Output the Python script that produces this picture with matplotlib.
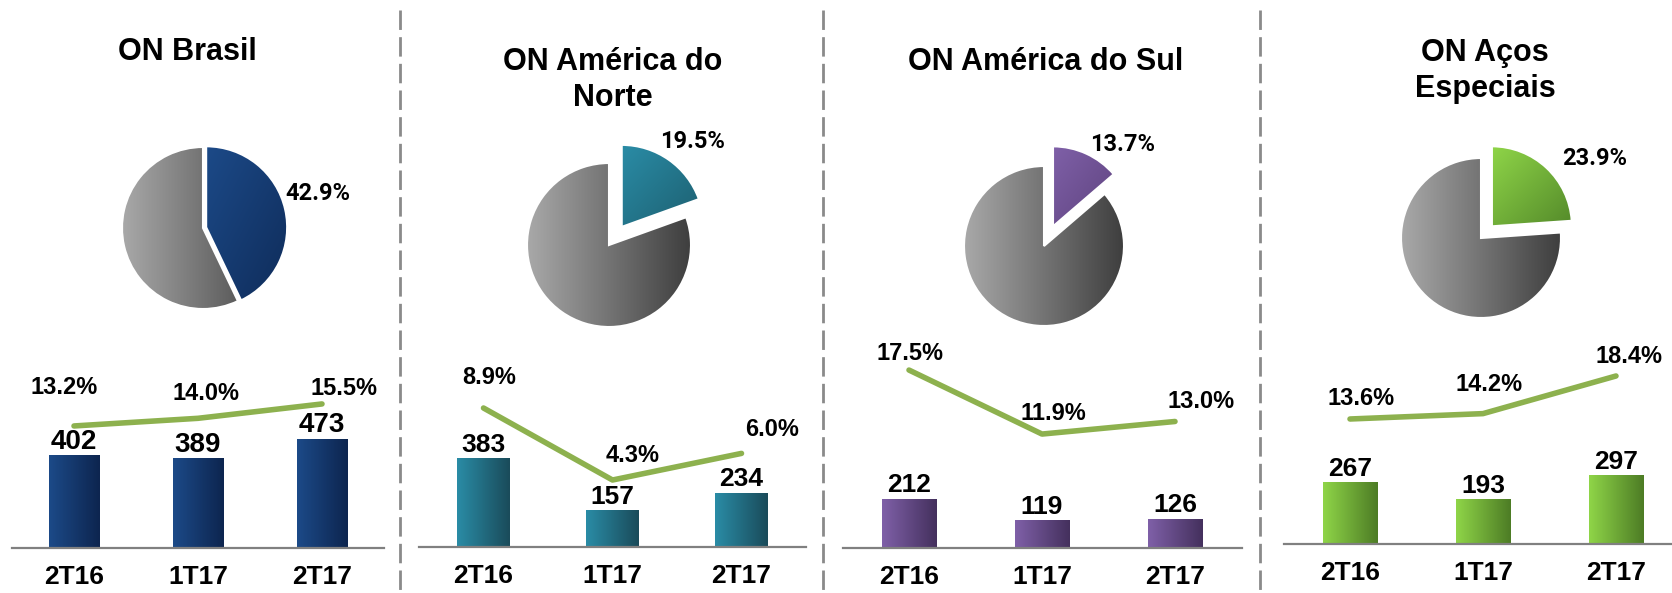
import numpy as np
import matplotlib.pyplot as plt
from matplotlib.colors import LinearSegmentedColormap
from matplotlib.lines import Line2D

W, H = 1672, 593

# data
titles = [["ON Brasil"], ["ON América do", "Norte"], ["ON América do Sul"], ["ON Aços", "Especiais"]]
periods = ["2T16", "1T17", "2T17"]
share = [42.9, 19.5, 13.7, 23.9]
volume_brasil = [402, 389, 473]
volume_norte = [383, 157, 234]
volume_sul = [212, 119, 126]
volume_especiais = [267, 193, 297]
margin_brasil = [13.2, 14.0, 15.5]
margin_norte = [8.9, 4.3, 6.0]
margin_sul = [17.5, 11.9, 13.0]
margin_especiais = [13.6, 14.2, 18.4]

volumes = [volume_brasil, volume_norte, volume_sul, volume_especiais]
margins = [margin_brasil, margin_norte, margin_sul, margin_especiais]

# styling / layout (pixels)
light = ["#1c4a88", "#2a8ca6", "#7f60a8", "#8fd548"]
dark = ["#0d254f", "#1a4b5a", "#44305d", "#4d7c25"]
pie_dark = ["#0f2c5a", "#1d5f70", "#5e437e", "#548a2a"]
line_color = "#8db14e"
grey_l, grey_d = "#a9a9a9", "#3e3e3e"

title_pos = [(187, 52), (613, 62), (1046, 62), (1485, 53)]
pie_pos = [(203, 228, 81), (609, 245, 82), (1044, 246, 80), (1481, 238, 80)]
explode = [0.04, 0.27, 0.27, 0.2]
pie_lab_off = [(115, 35), (84, 103), (79, 101), (114, 79)]
bar_x0 = [12, 419, 842.5, 1283.5]
bar_step = [124, 129, 133, 133]
baseline = [548, 547, 548, 544]
axes_top = 300
px_per_unit = 0.23
line_lims = [(0.45, 26.36), (0.02, 15.8), (1.93, 23.63), (-0.35, 26.88)]
line_lab_off = [[(-10, 38), (8, 25), (22, 15)],
                [(6, 31), (20, 25), (31, 24)],
                [(1, 17), (11, 21), (26, 20)],
                [(11, 20), (6, 29), (13, 19)]]
val_size = [20, 19, 19, 19]
separators = [400, 823, 1260]

ARIAL = "Liberation Sans"
CAL = "Roboto"

fig = plt.figure(figsize=(W / 100, H / 100), dpi=100)


def fx(x):
    return x / W


def fy(y):
    return 1 - y / H


for sx in separators:
    fig.add_artist(Line2D([fx(sx), fx(sx)], [fy(10), 0], transform=fig.transFigure,
                          color="#8a8a8a", lw=2, dashes=(7, 2.6)))

for p in range(4):
    # title
    tx, ty = title_pos[p]
    for i, line in enumerate(titles[p]):
        fig.text(fx(tx), fy(ty + i * 36), line, ha="center", va="center",
                 fontsize=22, fontweight="bold", family=ARIAL)

    # pie
    cx, cy, r = pie_pos[p]
    L = 1.45
    side = 2 * r * L
    pax = fig.add_axes([fx(cx - side / 2), fy(cy + side / 2), side / W, side / H])
    wedges, _ = pax.pie([share[p], 100 - share[p]], explode=[explode[p], 0], startangle=90,
                        counterclock=False, radius=1,
                        wedgeprops=dict(edgecolor="white", linewidth=1.5))
    pax.set_xlim(-L, L)
    pax.set_ylim(-L, L)
    pax.set_aspect("equal")
    pax.axis("off")

    gcmap = LinearSegmentedColormap.from_list("grey", [grey_l, grey_d])
    im = pax.imshow(np.linspace(0, 1, 256).reshape(1, -1), cmap=gcmap, extent=(-1, 1, -1, 1),
                    aspect="auto", interpolation="bilinear", zorder=0)
    im.set_clip_path(wedges[1])
    wedges[1].set_facecolor("none")

    ext = wedges[0].get_path().get_extents()
    gx, gy = np.meshgrid(np.linspace(0, 1, 100), np.linspace(0, 1, 100))
    ccmap = LinearSegmentedColormap.from_list("c%d" % p, [light[p], pie_dark[p]])
    im = pax.imshow(0.5 * gx + 0.5 * (1 - gy), cmap=ccmap, origin="lower",
                    extent=(ext.x0, ext.x1, ext.y0, ext.y1), aspect="auto",
                    interpolation="bilinear", zorder=0)
    im.set_clip_path(wedges[0])
    wedges[0].set_facecolor("none")
    pax.set_xlim(-L, L)
    pax.set_ylim(-L, L)
    pax.annotate("%.1f%%" % share[p], xy=(0, 0), xytext=pie_lab_off[p], textcoords="offset pixels",
                 ha="center", va="center", fontsize=17, fontweight="bold", family=CAL)

    # bars
    hpx = baseline[p] - axes_top
    ax = fig.add_axes([fx(bar_x0[p]), fy(baseline[p]), 3 * bar_step[p] / W, hpx / H])
    ax.set_facecolor("none")
    bars = ax.bar(range(3), volumes[p], width=0.41, color="none", edgecolor="none")
    bcmap = LinearSegmentedColormap.from_list("b%d" % p, [light[p], dark[p]])
    for b, v in zip(bars, volumes[p]):
        ax.imshow(np.linspace(0, 1, 128).reshape(1, -1), cmap=bcmap,
                  extent=(b.get_x(), b.get_x() + b.get_width(), 0, v),
                  aspect="auto", interpolation="bilinear", zorder=1)
        ax.annotate(str(v), xy=(b.get_x() + b.get_width() / 2, v), xytext=(0, 14),
                    textcoords="offset pixels", ha="center", va="center",
                    fontsize=val_size[p], fontweight="bold", family=ARIAL)
    ax.set_xlim(-0.5, 2.5)
    ax.set_ylim(0, hpx / px_per_unit)
    for s in ["top", "left", "right"]:
        ax.spines[s].set_visible(False)
    ax.spines["bottom"].set_color("#808080")
    ax.spines["bottom"].set_linewidth(1.6)
    ax.set_yticks([])
    ax.set_xticks(range(3))
    ax.set_xticklabels(periods, fontsize=19, fontweight="bold", family=ARIAL)
    ax.tick_params(axis="x", length=0, pad=12)

    # margin line
    ax2 = ax.twinx()
    ax2.set_ylim(*line_lims[p])
    ax2.plot(range(3), margins[p], color=line_color, lw=4, solid_capstyle="round")
    for i, m in enumerate(margins[p]):
        ax2.annotate("%.1f%%" % m, xy=(i, m), xytext=line_lab_off[p][i], textcoords="offset pixels",
                     ha="center", va="center", fontsize=17, fontweight="bold", family=ARIAL)
    ax2.axis("off")

fig.savefig("out.png", dpi=100)
